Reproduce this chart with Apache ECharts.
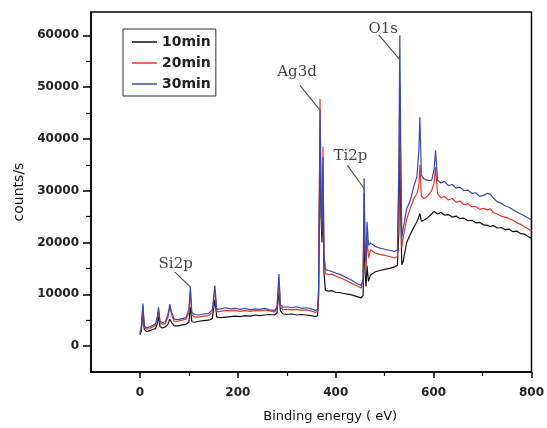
<!DOCTYPE html>
<html>
<head>
<meta charset="utf-8">
<script src="https://cdn.jsdelivr.net/npm/echarts@6/dist/echarts.min.js"></script>
<style>
html,body{margin:0;padding:0;background:#fff;}
#chart{width:547px;height:428px;}
</style>
</head>
<body>
<div id="chart"></div>
<script>
// Binding energy (eV)
const energy = [0,3,6,9,14,20,26,32,36,38,
41,46,52,57,61,65,70,78,86,94,
100,103,106,112,120,130,140,148,153,157,
165,175,185,195,205,215,225,235,245,255,
265,275,280,284,287,292,300,310,320,330,
340,350,358,363,365,367,368,370,372,374,
376,379,385,392,400,410,420,431,442,452,
456,458,460,462,464,467,471,480,490,500,
510,520,526,529,531,533,535,538,545,552,
560,566,570,572,575,580,588,596,601,604,
608,615,622,630,638,646,654,662,670,678,
686,694,702,710,716,722,730,738,746,754,
762,770,778,786,794,800];

const counts10 = [2200,3000,6500,3200,2800,3000,3200,3400,4500,5800,
3800,3500,3700,4200,5200,4500,3900,3900,4100,4200,
4600,7500,4700,4600,4800,4900,5000,5300,9000,5600,
5500,5600,5700,5800,5700,5900,5800,6000,5900,6000,
6100,6000,6400,10500,6800,6200,6100,6200,6000,6100,
6000,5900,5700,5900,9000,30000,42000,25000,20000,32000,
14000,10800,10600,10700,10400,10300,10100,9950,9600,9300,
9800,24000,14000,11500,15500,12500,13700,14300,14600,14800,
15000,15300,15600,22000,41000,25000,15700,16400,20000,21500,
23000,24000,25000,25600,24100,24300,24800,25500,26000,26300,
25500,25800,25300,25400,24900,25100,24600,24700,24200,24300,
23800,23900,23400,23300,23100,23300,22800,22900,22500,22600,
22100,22200,21700,21600,21100,20800];

const counts20 = [2400,3500,7800,3600,3300,3400,3700,4000,5600,7000,
4500,4200,4400,5500,7500,6000,4800,4800,5000,5200,
6500,10500,6000,5600,5600,5800,5900,6500,11000,6600,
6700,6900,6800,6900,6700,6900,6700,6900,6800,7000,
6800,6600,7200,12500,7600,7000,7100,7000,7100,6900,
7000,6800,6500,6700,10000,35000,47700,30000,24000,38500,
18000,14000,13800,13900,13500,13200,12700,12200,11700,11200,
12500,29500,18000,15000,21000,17000,18600,18000,17700,17500,
17300,17000,17300,30000,50300,32000,19000,21000,24500,26500,
28500,29500,31000,35000,29000,28500,29000,30000,31500,34500,
29500,28600,28900,28200,28500,27800,28000,27300,27500,26900,
27000,26400,26600,26300,26500,25800,25500,25100,24900,24600,
24300,23800,23500,23000,22600,22200];

const counts30 = [2500,3800,8200,3900,3500,3700,4000,4300,6000,7500,
4800,4500,4700,6000,8100,6500,5200,5100,5300,5500,
7000,11400,6500,6100,6000,6200,6300,7000,11700,7100,
7200,7400,7200,7300,7100,7300,7000,7200,7100,7300,
7000,6900,7500,13900,8000,7500,7600,7400,7600,7300,
7400,7200,6900,7100,11000,33000,45500,28000,22000,36500,
17500,14800,14600,14400,14100,13800,13300,12800,12200,11700,
13000,32400,19000,16500,24000,19500,19900,19300,18900,18700,
18500,18300,18500,35000,60000,38000,21000,22800,26500,28000,
31000,32700,38000,44200,33000,32300,32000,32000,34000,37800,
32000,31500,31800,31000,31200,30500,30700,30000,30100,29500,
29600,28900,29100,29500,29300,28600,27900,27600,27100,26800,
26300,25900,25500,25100,24700,24400];

const seriesNames = ['10min','20min','30min'];
const xMajorTicks = [0,200,400,600,800];
const xMinorTicks = [100,300,500,700];
const yMajorTicks = [0,10000,20000,30000,40000,50000,60000];
const yMinorTicks = [5000,15000,25000,35000,45000,55000];

// Peak annotations: label [energy, counts], leader line start and end (peak)
const peakNames = ['Si2p','Ag3d','Ti2p','O1s'];
const peakLabelAt = [[73,15740],[321,52840],[430,36750],[497,61200]];
const leaderFrom = [[71,14340],[327,50350],[424,34890],[488,60100]];
const leaderTo = [[103,11410],[369,45420],[458,30430],[531,55300]];

const colors = ['#111111','#e8392a','#3a48b0'];
const dataSets = [counts10, counts20, counts30];

const chart = echarts.init(document.getElementById('chart'), null, {renderer:'canvas'});
const lineSeries = dataSets.map((d, i) => ({
  name: seriesNames[i],
  type: 'line',
  xAxisIndex: 0, yAxisIndex: 0,
  data: energy.map((e, k) => [e, d[k]]),
  showSymbol: false,
  symbol: 'none',
  lineStyle: {color: colors[i], width: 1.2},
  itemStyle: {color: colors[i]},
  z: 2 + i
}));

const annSeries = {
  type: 'scatter',
  xAxisIndex: 0, yAxisIndex: 0,
  symbolSize: 2,
  itemStyle: {color: 'rgba(0,0,0,0)'},
  data: peakNames.map((n, i) => ({name: n, value: peakLabelAt[i]})),
  label: {
    show: true, position: 'inside', formatter: p => p.name,
    fontFamily: 'DejaVu Serif', fontSize: 15, color: '#111'
  },
  markLine: {
    silent: true, symbol: ['none','none'], animation: false,
    label: {show: false},
    lineStyle: {color: '#555', width: 1.2, type: 'solid'},
    data: leaderFrom.map((f, i) => [{coord: f}, {coord: leaderTo[i]}])
  },
  z: 10
};

const axisFont = {fontFamily: 'DejaVu Sans', fontSize: 12, fontWeight: 'bold', color: '#222', formatter: v => String(v)};

chart.setOption({
  animation: false,
  backgroundColor: '#fff',
  grid: {left: 91, top: 12, right: 11, bottom: 53, show: true, borderColor: '#000', borderWidth: 1.5, backgroundColor: 'transparent'},
  legend: {
    data: seriesNames, orient: 'vertical', left: 123, top: 29,
    icon: 'rect', itemWidth: 25, itemHeight: 1.5, itemGap: 7,
    padding: [6, 5, 5, 9],
    borderColor: '#333', borderWidth: 1,
    textStyle: {fontFamily: 'DejaVu Sans', fontSize: 14, fontWeight: 'bold', color: '#222', lineHeight: 14}
  },
  xAxis: [{
    type: 'value', min: -100, max: 800,
    name: 'Binding energy ( eV)', nameLocation: 'middle', nameGap: 38,
    nameTextStyle: {fontFamily: 'DejaVu Sans', fontSize: 13, color: '#111', padding: [0,0,0,38]},
    axisLine: {show: true, onZero: false, lineStyle: {color: '#000', width: 1.5}},
    axisTick: {show: true, inside: false, length: 6, lineStyle: {color: '#000', width: 1.5}, customValues: xMajorTicks},
    axisLabel: Object.assign({margin: 15, customValues: xMajorTicks}, axisFont),
    splitLine: {show: false}
  },{
    type: 'value', min: -100, max: 800, position: 'bottom',
    axisLine: {show: false, onZero: false},
    axisTick: {show: true, inside: false, length: 4, lineStyle: {color: '#000', width: 1.2}, customValues: xMinorTicks},
    axisLabel: {show: false},
    splitLine: {show: false}
  }],
  yAxis: [{
    type: 'value', min: -5000, max: 64500,
    name: 'counts/s', nameLocation: 'middle', nameGap: 63, nameRotate: 90,
    nameTextStyle: {fontFamily: 'DejaVu Sans', fontSize: 14, color: '#111'},
    axisLine: {show: true, onZero: false, lineStyle: {color: '#000', width: 1.5}},
    axisTick: {show: true, inside: false, length: 8, lineStyle: {color: '#000', width: 1.5}, customValues: yMajorTicks},
    axisLabel: Object.assign({margin: 12, customValues: yMajorTicks}, axisFont),
    splitLine: {show: false}
  },{
    type: 'value', min: -5000, max: 64500, position: 'left',
    axisLine: {show: false, onZero: false},
    axisTick: {show: true, inside: false, length: 5, lineStyle: {color: '#000', width: 1.2}, customValues: yMinorTicks},
    axisLabel: {show: false},
    splitLine: {show: false}
  }],
  series: lineSeries.concat([annSeries])
});
</script>
</body>
</html>
